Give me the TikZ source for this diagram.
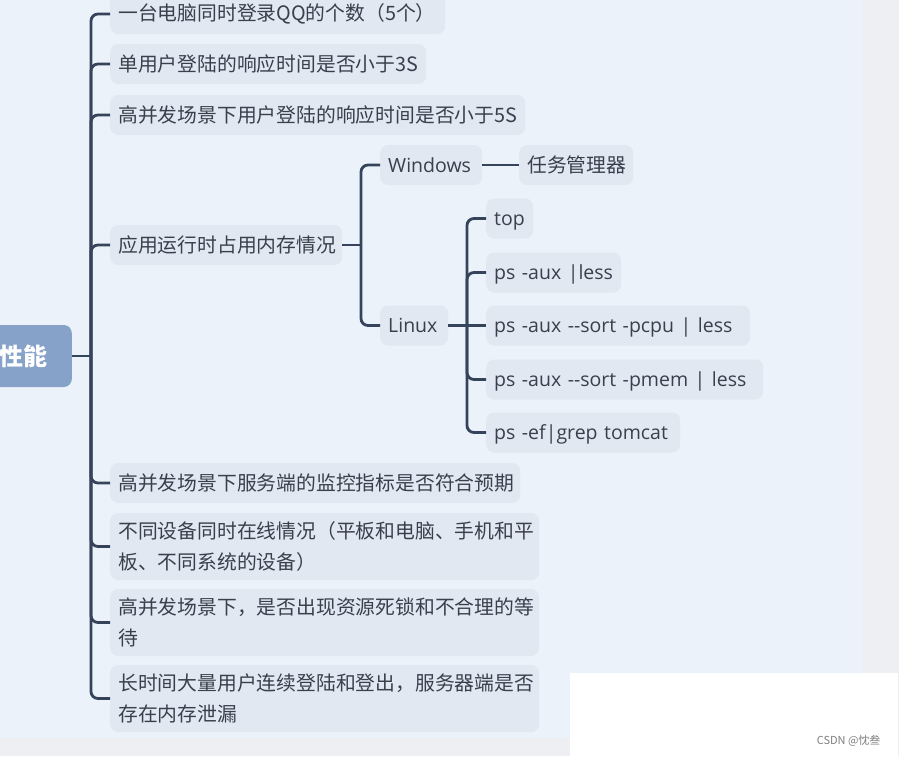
\documentclass[tikz,border=0pt]{standalone}
\usepackage{fontspec}
\setmainfont{Open Sans}
\newfontfamily\cjk{Noto Sans CJK SC}
\definecolor{bgblue}{HTML}{EBF2FA}
\definecolor{stripc}{HTML}{EEEFF3}
\definecolor{boxfill}{HTML}{E1E8F1}
\definecolor{rootfill}{HTML}{86A2C9}
\definecolor{linec}{HTML}{36445B}
\definecolor{txt}{HTML}{3A3F4D}
\begin{document}
\begin{tikzpicture}[x=1pt,y=-1pt,
  leafbase/.style={fill=boxfill, rounded corners=8pt, anchor=west, inner xsep=8pt, inner ysep=0pt,
    minimum height=40pt, align=left, text=txt},
  leaf/.style={leafbase, font=\fontsize{19.5}{31}\selectfont, text height=18pt, text depth=4pt},
  zh/.style={leafbase, font=\cjk\fontsize{19.8}{31}\selectfont},
  tall/.style={minimum height=67pt},
  conn/.style={draw=linec, line width=2.8pt, rounded corners=7pt},
  rootbox/.style={fill=rootfill, rounded corners=8pt, anchor=east, minimum width=97pt, minimum height=62pt,
    text=white, font=\cjk\bfseries\fontsize{24}{28}\selectfont},
]
\useasboundingbox (0,0) rectangle (899,756);
\fill[stripc] (0,0) rectangle (899,756);
\fill[bgblue] (0,0) rectangle (863,738);
\fill[white] (570,673) rectangle (898,756);
\node[font=\cjk\fontsize{11}{13}\selectfont, text=gray, anchor=east] (wm) at (884,741) {CSDN @忱叁};

\node[rootbox] (root) at (72,356) {性能};

\node[zh, text width=319pt] (n1) at (110,14) {一台电脑同时登录QQ的个数（5个）};
\node[zh, text width=300pt] (n2) at (110,64) {单用户登陆的响应时间是否小于3S};
\node[zh, text width=399pt] (n3) at (110,115) {高并发场景下用户登陆的响应时间是否小于5S};
\node[zh, text width=216pt] (n4) at (110,245) {应用运行时占用内存情况};
\node[zh, text width=394pt] (n5) at (110,483) {高并发场景下服务端的监控指标是否符合预期};
\node[zh, tall, text width=413pt] (n6) at (110,546.5) {不同设备同时在线情况（平板和电脑、手机和平\\板、不同系统的设备）};
\node[zh, tall, text width=413pt] (n7) at (110,622.5) {高并发场景下，是否出现资源死锁和不合理的等\\待};
\node[zh, tall, text width=413pt] (n8) at (110,698.5) {长时间大量用户连续登陆和登出，服务器端是否\\存在内存泄漏};

\node[leaf, text width=86pt] (win) at (380,165) {Windows};
\node[zh, text width=98pt] (task) at (519,165) {任务管理器};
\node[leaf, text width=52pt] (linux) at (380,325.5) {Linux};

\node[leaf, text width=31pt] (l1) at (486,218.5) {top};
\node[leaf, text width=119pt] (l2) at (486,272.5) {ps -aux |less};
\node[leaf, text width=248pt] (l3) at (486,325.5) {ps -aux -\kern0pt-sort -pcpu | less};
\node[leaf, text width=261pt] (l4) at (486,379.5) {ps -aux -\kern0pt-sort -pmem | less};
\node[leaf, text width=178pt] (l5) at (486,432.5) {ps -ef|grep tomcat};

\coordinate (j0) at (91,356);
\coordinate (j1) at (361,245);
\coordinate (j2) at (467,325.5);

\draw[conn] (root.east) -- (j0);
\foreach \c in {n1,n2,n3,n4,n5,n6,n7,n8} \draw[conn] (j0) |- (\c.west);
\draw[conn] (n4.east) -- (j1);
\foreach \c in {win,linux} \draw[conn] (j1) |- (\c.west);
\draw[conn] (win.east) -- (task.west);
\draw[conn] (linux.east) -- (j2);
\foreach \c in {l1,l2,l4,l5} \draw[conn] (j2) |- (\c.west);
\draw[conn] (j2) -- (l3.west);
\end{tikzpicture}
\end{document}
